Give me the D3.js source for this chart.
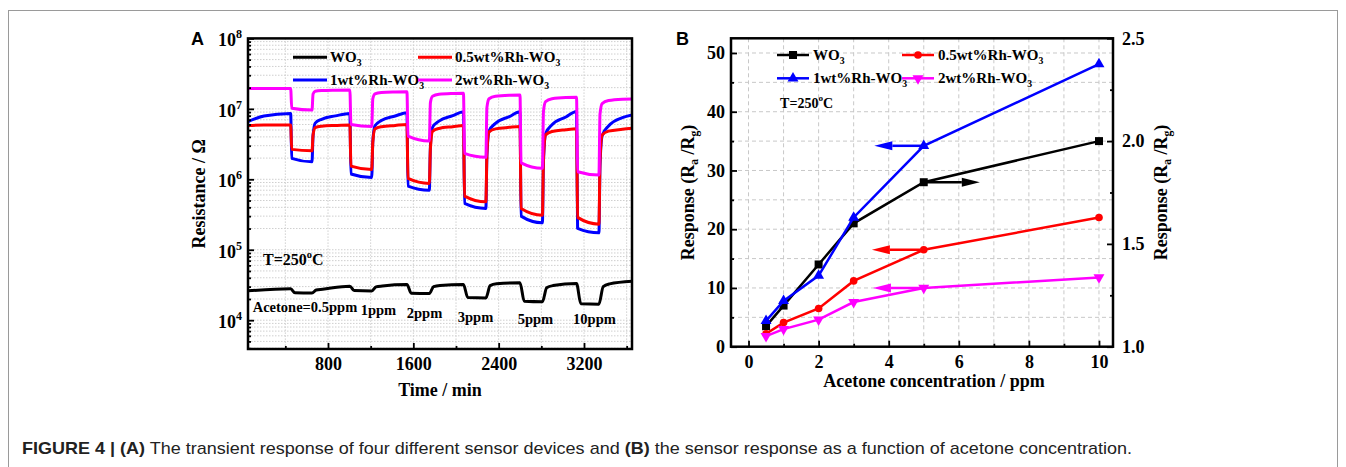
<!DOCTYPE html>
<html>
<head>
<meta charset="utf-8">
<script src="https://cdn.jsdelivr.net/npm/d3@7"></script>
<style>
  body { margin: 0; background: #fff; }
  .caption { white-space: pre; }
</style>
</head>
<body>
<div id="chart"></div>
<script>
// ---------- data: panel A (transient response) ----------
const seriesNames = ["WO3", "0.5wt%Rh-WO3", "1wt%Rh-WO3", "2wt%Rh-WO3"];
const colors = ["#000000", "#ff0000", "#0000ff", "#ff00ff"];

// shared time points (min) for the Rh doped sensors
const timeA = [50, 200,
  450, 460, 650, 660, 680, 740, 870,
  1005, 1015, 1210, 1220, 1240, 1300, 1430,
  1540, 1550, 1750, 1760, 1780, 1840, 1970,
  2070, 2080, 2280, 2290, 2310, 2370, 2500,
  2600, 2610, 2810, 2820, 2840, 2900, 3030,
  3130, 3140, 3340, 3350, 3370, 3430, 3560,
  3650];

const rh05ResA = [5.8e6, 5.9e6,
  5.9e6, 2.66e6, 2.54e6, 4.22e6, 5.42e6, 5.66e6, 5.81e6,
  5.9e6, 1.54e6, 1.38e6, 3.33e6, 5.18e6, 5.57e6, 5.82e6,
  6.0e6, 1.03e6, 8.75e5, 2.72e6, 4.8e6, 5.27e6, 5.58e6,
  5.8e6, 5.77e5, 4.79e5, 2.37e6, 4.71e6, 5.2e6, 5.46e6,
  5.6e6, 3.86e5, 3.1e5, 1.94e6, 4.27e6, 4.78e6, 5.06e6,
  5.2e6, 2.88e5, 2.31e5, 1.77e6, 4.26e6, 4.82e6, 5.13e6,
  5.3e6];

const rh1ResA = [6.6e6, 7.9e6,
  8.6e6, 1.98e6, 1.77e6, 4.22e6, 6.27e6, 7.11e6, 7.94e6,
  8.6e6, 1.19e6, 1.06e6, 3.39e6, 5.75e6, 6.82e6, 7.91e6,
  8.8e6, 8.0e5, 7.0e5, 2.87e6, 5.45e6, 6.68e6, 8.0e6,
  9.1e6, 4.55e5, 3.86e5, 2.2e6, 4.84e6, 6.22e6, 7.76e6,
  9.1e6, 3.0e5, 2.41e5, 1.79e6, 4.44e6, 5.94e6, 7.67e6,
  9.2e6, 2.01e5, 1.74e5, 1.55e6, 4.16e6, 5.71e6, 7.5e6,
  8.2e6];

const rh2ResA = [1.95e7, 1.95e7,
  1.95e7, 1.02e7, 9.6e6, 1.62e7, 1.78e7, 1.82e7, 1.84e7,
  1.85e7, 6.0e6, 5.6e6, 1.39e7, 1.63e7, 1.71e7, 1.74e7,
  1.75e7, 4.1e6, 3.5e6, 1.22e7, 1.51e7, 1.61e7, 1.65e7,
  1.66e7, 2.33e6, 2.05e6, 1.05e7, 1.39e7, 1.51e7, 1.56e7,
  1.57e7, 1.71e6, 1.43e6, 9.2e6, 1.27e7, 1.39e7, 1.45e7,
  1.46e7, 1.28e6, 1.15e6, 8.4e6, 1.19e7, 1.31e7, 1.37e7,
  1.38e7];

// pure WO3 has slower transitions, own time points
const wo3TimeA = [50, 450, 490, 650, 690, 750,
  1005, 1045, 1210, 1250, 1310,
  1540, 1580, 1750, 1790, 1850,
  2070, 2110, 2280, 2320, 2380,
  2600, 2640, 2810, 2850, 2910,
  3130, 3170, 3340, 3380, 3440, 3650];
const wo3ResA = [2.61e4, 2.79e4, 2.45e4, 2.43e4, 2.68e4, 2.75e4,
  3.04e4, 2.63e4, 2.60e4, 2.97e4, 3.06e4,
  3.21e4, 2.42e4, 2.39e4, 3.0e4, 3.12e4,
  3.2e4, 2.10e4, 2.07e4, 3.09e4, 3.28e4,
  3.39e4, 1.85e4, 1.82e4, 2.89e4, 3.1e4,
  3.32e4, 1.71e4, 1.69e4, 3.0e4, 3.28e4, 3.58e4];

const timeTicksMajor = [800, 1600, 2400, 3200];
const timeTicksMinor = [400, 1200, 2000, 2800, 3600];
const resTicksMajor = [1e4, 1e5, 1e6, 1e7, 1e8];

const gasLabels = ["Acetone=0.5ppm", "1ppm", "2ppm", "3ppm", "5ppm", "10ppm"];
const gasLabelTime = [584, 1273, 1705, 2183, 2745, 3298];
const gasLabelRes = [1.3e4, 1.18e4, 1.07e4, 9.4e3, 8.8e3, 8.8e3];

// ---------- data: panel B (response vs concentration) ----------
const concB = [0.5, 1, 2, 3, 5, 10];
const wo3B = [1.10, 1.20, 1.40, 1.60, 1.80, 2.00];   // right axis
const rh05B = [2.2, 4.1, 6.5, 11.2, 16.5, 22.0];
const rh1B = [4.4, 7.8, 12.1, 22.0, 34.2, 48.1];
const rh2B = [1.8, 3.0, 4.6, 7.6, 10.0, 11.8];
const arrowTipB = [6.6, 3.52, 3.59, 3.55];           // arrows start at the 5 ppm point

const concTicksMajor = [0, 2, 4, 6, 8, 10];
const concTicksMinor = [1, 3, 5, 7, 9];
const respTicksMajor = [0, 10, 20, 30, 40, 50];
const respTicksMinor = [5, 15, 25, 35, 45];
const rightTicksMajor = [1.0, 1.5, 2.0, 2.5];
const rightTicksMinor = [1.25, 1.75, 2.25];

// ---------- drawing ----------
const W = 1346, H = 467;
const serif = '"Liberation Serif", "Times New Roman", serif';
const sans = '"Liberation Sans", Arial, sans-serif';
const tickFont = 18;

const svg = d3.select("#chart").append("svg")
  .attr("width", W)
  .attr("height", H);

// figure border
svg.append("rect")
  .attr("x", 8.5).attr("y", 10.5)
  .attr("width", 1329).attr("height", 480)
  .attr("fill", "none")
  .attr("stroke", "#9a9a9a");

function styleAxis(g, size) {
  g.attr("font-family", serif).attr("font-size", size).attr("font-weight", "bold");
  g.select(".domain").remove();
  g.selectAll(".tick line").attr("stroke", "#000").attr("stroke-width", 1.8);
  g.selectAll(".tick text").attr("fill", "#000");
}

function subText(sel, parts) {
  // parts: [text, "sub"|"sup"|null]
  let shift = 0;
  parts.forEach(([t, kind]) => {
    const sp = sel.append("tspan").text(t);
    let want = kind === "sub" ? 4 : kind === "sup" ? -7 : 0;
    if (want !== shift) { sp.attr("dy", want - shift); shift = want; }
    if (kind) sp.attr("font-size", "0.65em");
  });
}

// ================= Panel A =================
const boxA = { left: 248, right: 632, top: 38.4, bottom: 349 };
const xA = d3.scaleLinear().domain([50, 3650]).range([boxA.left, boxA.right]);
const yA = d3.scaleLog().domain([3.9e3, 1e8]).range([boxA.bottom, boxA.top]);

const gA = svg.append("g");

gA.append("clipPath").attr("id", "clipA")
  .append("rect")
  .attr("x", boxA.left).attr("y", boxA.top)
  .attr("width", boxA.right - boxA.left).attr("height", boxA.bottom - boxA.top);

// dotted grid
gA.append("g").selectAll("line")
  .data(yA.ticks())
  .enter().append("line")
  .attr("x1", boxA.left).attr("x2", boxA.right)
  .attr("y1", d => yA(d)).attr("y2", d => yA(d))
  .attr("stroke", "#cfcfcf").attr("stroke-dasharray", "1.5,1.5");
gA.append("g").selectAll("line")
  .data(timeTicksMajor.concat(timeTicksMinor))
  .enter().append("line")
  .attr("y1", boxA.top).attr("y2", boxA.bottom)
  .attr("x1", d => xA(d)).attr("x2", d => xA(d))
  .attr("stroke", "#cfcfcf").attr("stroke-dasharray", "1.5,1.5");

// series
const lineA = d3.line()
  .x(d => xA(d[0]))
  .y(d => yA(d[1]))
  .curve(d3.curveMonotoneX);

const seriesA = [
  { color: colors[2], pts: d3.zip(timeA, rh1ResA) },
  { color: colors[1], pts: d3.zip(timeA, rh05ResA) },
  { color: colors[3], pts: d3.zip(timeA, rh2ResA) },
  { color: colors[0], pts: d3.zip(wo3TimeA, wo3ResA) }
];

gA.append("g").attr("clip-path", "url(#clipA)")
  .selectAll("path")
  .data(seriesA)
  .enter().append("path")
  .attr("d", d => lineA(d.pts))
  .attr("fill", "none")
  .attr("stroke", d => d.color)
  .attr("stroke-width", 3)
  .attr("stroke-linejoin", "round");

// axes
const axAL = gA.append("g").attr("transform", `translate(${boxA.left},0)`)
  .call(d3.axisLeft(yA).tickValues(resTicksMajor).tickSize(-6).tickPadding(6));
styleAxis(axAL, tickFont);
axAL.selectAll(".tick text").attr("dy", "0.42em").each(function(d) {
  const t = d3.select(this);
  t.text("10");
  t.append("tspan").attr("dy", -8).attr("font-size", 12).text(Math.round(Math.log10(d)));
});
const minorLogTicks = yA.ticks().filter(d => !resTicksMajor.includes(d));
styleAxis(gA.append("g").attr("transform", `translate(${boxA.left},0)`)
  .call(d3.axisLeft(yA).tickValues(minorLogTicks).tickSize(-3).tickFormat("")), tickFont);

const axAB = gA.append("g").attr("transform", `translate(0,${boxA.bottom})`)
  .call(d3.axisBottom(xA).tickValues(timeTicksMajor).tickSize(-6).tickPadding(8).tickFormat(d3.format("d")));
styleAxis(axAB, tickFont);
styleAxis(gA.append("g").attr("transform", `translate(0,${boxA.bottom})`)
  .call(d3.axisBottom(xA).tickValues(timeTicksMinor).tickSize(-3).tickFormat("")), tickFont);

// frame
gA.append("rect")
  .attr("x", boxA.left).attr("y", boxA.top)
  .attr("width", boxA.right - boxA.left).attr("height", boxA.bottom - boxA.top)
  .attr("fill", "none").attr("stroke", "#000").attr("stroke-width", 2.5);

// titles
gA.append("text")
  .attr("x", (boxA.left + boxA.right) / 2).attr("y", 396)
  .attr("text-anchor", "middle")
  .attr("font-family", serif).attr("font-weight", "bold").attr("font-size", 18)
  .text("Time / min");
gA.append("text")
  .attr("transform", `translate(205,${(boxA.top + boxA.bottom) / 2}) rotate(-90)`)
  .attr("text-anchor", "middle")
  .attr("font-family", serif).attr("font-weight", "bold").attr("font-size", 18)
  .text("Resistance / \u03A9");
gA.append("text")
  .attr("x", 191).attr("y", 45)
  .attr("font-family", sans).attr("font-weight", "bold").attr("font-size", 18)
  .text("A");

// annotations
const tA = gA.append("text")
  .attr("x", xA(191)).attr("y", yA(6.0e4))
  .attr("font-family", serif).attr("font-weight", "bold").attr("font-size", 16);
subText(tA, [["T=250", null], ["o", "sup"], ["C", null]]);

gA.append("g").selectAll("text")
  .data(gasLabels)
  .enter().append("text")
  .attr("x", (d, i) => xA(gasLabelTime[i]))
  .attr("y", (d, i) => yA(gasLabelRes[i]))
  .attr("text-anchor", "middle")
  .attr("font-family", serif).attr("font-weight", "bold").attr("font-size", 14.5)
  .text(d => d);

// legend A
const legPosA = [[293, 57.3], [418, 57.3], [293, 80], [418, 80]];
seriesNames.forEach((name, i) => {
  const [lx, ly] = legPosA[i];
  gA.append("line")
    .attr("x1", lx).attr("x2", lx + 34).attr("y1", ly).attr("y2", ly)
    .attr("stroke", colors[i]).attr("stroke-width", 3);
  const t = gA.append("text")
    .attr("x", lx + 37).attr("y", ly + 5)
    .attr("font-family", serif).attr("font-weight", "bold").attr("font-size", 15);
  subText(t, [[name.slice(0, -1), null], ["3", "sub"]]);
});

// ================= Panel B =================
const boxB = { left: 731, right: 1113, top: 38.3, bottom: 346.7 };
const xB = d3.scaleLinear().domain([-0.5, 10.4]).range([boxB.left, boxB.right]);
const yB = d3.scaleLinear().domain([0, 52.5]).range([boxB.bottom, boxB.top]);
const yBR = d3.scaleLinear().domain([1.0, 2.5]).range([boxB.bottom, boxB.top]);

const gB = svg.append("g");

// dashed grid
gB.append("g").selectAll("line")
  .data(respTicksMajor.concat(respTicksMinor).filter(d => d > 0))
  .enter().append("line")
  .attr("x1", boxB.left).attr("x2", boxB.right)
  .attr("y1", d => yB(d)).attr("y2", d => yB(d))
  .attr("stroke", "#c8c8c8").attr("stroke-dasharray", "4,3");
gB.append("g").selectAll("line")
  .data(concTicksMajor.concat(concTicksMinor))
  .enter().append("line")
  .attr("y1", boxB.top).attr("y2", boxB.bottom)
  .attr("x1", d => xB(d)).attr("x2", d => xB(d))
  .attr("stroke", "#c8c8c8").attr("stroke-dasharray", "4,3");

const symbols = [
  d3.symbol().type(d3.symbolSquare).size(64),
  d3.symbol().type(d3.symbolCircle).size(46),
  d3.symbol().type(d3.symbolTriangle).size(52),
  d3.symbol().type(d3.symbolTriangle).size(52)
];
const symRot = [0, 0, 0, 180];

const seriesB = [
  { i: 0, vals: wo3B, y: yBR },
  { i: 1, vals: rh05B, y: yB },
  { i: 3, vals: rh2B, y: yB },
  { i: 2, vals: rh1B, y: yB }
];

// arrows (drawn under lines)
seriesB.forEach(s => {
  const x0 = xB(5), x1 = xB(arrowTipB[s.i]), yy = s.y(s.vals[4]);
  const dir = Math.sign(x1 - x0), head = 18;
  gB.append("line")
    .attr("x1", x0).attr("x2", x1 - dir * head).attr("y1", yy).attr("y2", yy)
    .attr("stroke", colors[s.i]).attr("stroke-width", 2.5);
  gB.append("path")
    .attr("d", `M${x1},${yy} L${x1 - dir * head},${yy - 4.5} L${x1 - dir * head},${yy + 4.5} Z`)
    .attr("fill", colors[s.i]);
});

seriesB.forEach(s => {
  const pts = d3.zip(concB, s.vals);
  gB.append("path")
    .attr("d", d3.line().x(d => xB(d[0])).y(d => s.y(d[1]))(pts))
    .attr("fill", "none")
    .attr("stroke", colors[s.i])
    .attr("stroke-width", 2.5);
  gB.append("g").selectAll("path")
    .data(pts)
    .enter().append("path")
    .attr("d", symbols[s.i])
    .attr("transform", d => `translate(${xB(d[0])},${s.y(d[1])}) rotate(${symRot[s.i]})`)
    .attr("fill", colors[s.i]);
});

// axes B
styleAxis(gB.append("g").attr("transform", `translate(${boxB.left},0)`)
  .call(d3.axisLeft(yB).tickValues(respTicksMajor).tickSize(-6).tickPadding(6)), tickFont);
styleAxis(gB.append("g").attr("transform", `translate(${boxB.left},0)`)
  .call(d3.axisLeft(yB).tickValues(respTicksMinor).tickSize(-3).tickFormat("")), tickFont);
styleAxis(gB.append("g").attr("transform", `translate(${boxB.right},0)`)
  .call(d3.axisRight(yBR).tickValues(rightTicksMajor).tickSize(-6).tickPadding(9).tickFormat(d3.format(".1f"))), tickFont);
styleAxis(gB.append("g").attr("transform", `translate(${boxB.right},0)`)
  .call(d3.axisRight(yBR).tickValues(rightTicksMinor).tickSize(-3).tickFormat("")), tickFont);
styleAxis(gB.append("g").attr("transform", `translate(0,${boxB.bottom})`)
  .call(d3.axisBottom(xB).tickValues(concTicksMajor).tickSize(-6).tickPadding(9)), tickFont);
styleAxis(gB.append("g").attr("transform", `translate(0,${boxB.bottom})`)
  .call(d3.axisBottom(xB).tickValues(concTicksMinor).tickSize(-3).tickFormat("")), tickFont);

gB.append("rect")
  .attr("x", boxB.left).attr("y", boxB.top)
  .attr("width", boxB.right - boxB.left).attr("height", boxB.bottom - boxB.top)
  .attr("fill", "none").attr("stroke", "#000").attr("stroke-width", 2.5);

// titles B
gB.append("text")
  .attr("x", 934).attr("y", 387)
  .attr("text-anchor", "middle")
  .attr("font-family", serif).attr("font-weight", "bold").attr("font-size", 18)
  .text("Acetone concentration / ppm");
[[694, 192.5], [1167, 192.5]].forEach(([tx, ty]) => {
  const t = gB.append("text")
    .attr("transform", `translate(${tx},${ty}) rotate(-90)`)
    .attr("text-anchor", "middle")
    .attr("font-family", serif).attr("font-weight", "bold").attr("font-size", 18);
  subText(t, [["Response (R", null], ["a", "sub"], [" /R", null], ["g", "sub"], [")", null]]);
});
gB.append("text")
  .attr("x", 676).attr("y", 45)
  .attr("font-family", sans).attr("font-weight", "bold").attr("font-size", 18)
  .text("B");

const tB = gB.append("text")
  .attr("x", xB(0.9)).attr("y", yB(40.6))
  .attr("font-family", serif).attr("font-weight", "bold").attr("font-size", 14);
subText(tB, [["T=250", null], ["o", "sup"], ["C", null]]);

// legend B
const legPosB = [[777, 55], [902, 55], [777, 78.3], [902, 78.3]];
seriesNames.forEach((name, i) => {
  const [lx, ly] = legPosB[i];
  gB.append("line")
    .attr("x1", lx).attr("x2", lx + 32).attr("y1", ly).attr("y2", ly)
    .attr("stroke", colors[i]).attr("stroke-width", 2.5);
  gB.append("path")
    .attr("d", symbols[i])
    .attr("transform", `translate(${lx + 16},${ly}) rotate(${symRot[i]})`)
    .attr("fill", colors[i]);
  const t = gB.append("text")
    .attr("x", lx + 36).attr("y", ly + 5)
    .attr("font-family", serif).attr("font-weight", "bold").attr("font-size", 15);
  subText(t, [[name.slice(0, -1), null], ["3", "sub"]]);
});

// ================= caption =================
const cap = svg.append("text")
  .attr("class", "caption")
  .attr("x", 22).attr("y", 454)
  .attr("font-family", sans).attr("font-size", 17).attr("fill", "#222")
  .attr("textLength", 1110).attr("lengthAdjust", "spacingAndGlyphs");
cap.append("tspan").attr("font-weight", "bold").text("FIGURE 4 | (A)");
cap.append("tspan").text(" The transient response of four different sensor devices and ");
cap.append("tspan").attr("font-weight", "bold").text("(B)");
cap.append("tspan").text(" the sensor response as a function of acetone concentration.");
</script>
</body>
</html>
